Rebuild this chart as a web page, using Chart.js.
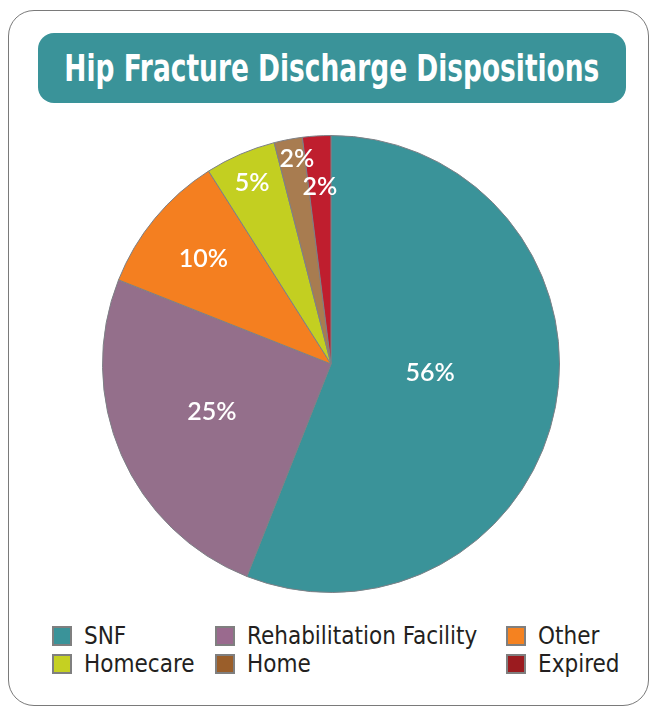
<!DOCTYPE html>
<html>
<head>
<meta charset="utf-8">
<script src="https://cdn.jsdelivr.net/npm/chart.js@4"></script>
<style>
  html, body { margin: 0; padding: 0; background: #fff; }
  body { width: 649px; height: 710px; position: relative; overflow: hidden; }
  #card {
    position: absolute; left: 8px; top: 10px; width: 641px; height: 696px;
    border: 1px solid #7a7a7a; border-radius: 26px; box-sizing: border-box;
  }
  #banner {
    position: absolute; left: 38px; top: 33px; width: 588px; height: 70px;
    background: #3a9399; border-radius: 16px;
    display: flex; align-items: center; justify-content: center;
  }
  #title {
    color: #fff; font-family: "Liberation Sans Narrow", "DejaVu Sans Condensed", sans-serif;
    font-weight: bold; font-size: 38px; white-space: nowrap; display: inline-block;
    transform-origin: center center;
  }
  #wrap { position: absolute; left: 102px; top: 135px; width: 458px; height: 458px; }
  #legend {
    position: absolute; left: 52px; top: 625px;
    display: grid; grid-template-columns: 163px 291px auto; grid-auto-rows: 28px;
    font-family: "Liberation Sans Narrow", "DejaVu Sans Condensed", sans-serif;
    font-size: 24px; color: #231f20;
  }
  .item { display: flex; align-items: center; height: 22px; }
  .box { width: 16px; height: 16px; border: 2px solid #7f7f7f; margin-right: 12px; flex: none; }
</style>
</head>
<body>
<div id="card"></div>
<div id="banner"><span id="title">Hip Fracture Discharge Dispositions</span></div>
<div id="wrap"><canvas id="pie" width="458" height="458"></canvas></div>
<div id="legend"></div>
<script>
  // data
  const categories = ['SNF', 'Rehabilitation Facility', 'Other', 'Homecare', 'Home', 'Expired']
  const percents = [56, 25, 10, 5, 2, 2]
  const sliceColors = ['#3a9399', '#946f8b', '#f47f20', '#c3cf21', '#a87c50', '#bf1e2e']
  const legendColors = ['#3a9399', '#9a6a8e', '#f58220', '#c5d022', '#9a5e2a', '#9b1b1f']

  // title fit to banner width
  let title = document.getElementById('title')
  let tw = title.getBoundingClientRect().width
  title.style.transform = 'scaleX(' + (535 / tw) + ')'

  // where each % label sits: share of the radius, and turn (deg) off the slice middle
  const labelRadius = [0.435, 0.56, 0.725, 0.87, 0.915, 0.78]
  const labelTurn = [-6, 2, 0, 0, 1.4, 0]

  const pctLabels = {
    id: 'pctLabels',
    afterDatasetsDraw(chart) {
      let ctx = chart.ctx
      let meta = chart.getDatasetMeta(0)
      ctx.save()
      ctx.fillStyle = '#ffffff'
      ctx.font = '600 25px Lato, "Open Sans", sans-serif'
      ctx.textAlign = 'center'
      ctx.textBaseline = 'middle'
      meta.data.forEach((arc, i) => {
        let mid = (arc.startAngle + arc.endAngle) / 2 + labelTurn[i] * Math.PI / 180
        let r = arc.outerRadius * labelRadius[i]
        ctx.fillText(percents[i] + '%', arc.x + Math.cos(mid) * r, arc.y + Math.sin(mid) * r + 1)
      })
      ctx.restore()
    }
  }

  let pie = new Chart(document.getElementById('pie').getContext('2d'), {
    type: 'pie',
    data: {
      labels: categories,
      datasets: [{
        data: percents,
        backgroundColor: sliceColors,
        borderColor: '#7d8086',
        borderWidth: 1
      }]
    },
    options: {
      responsive: false,
      maintainAspectRatio: false,
      animation: false,
      layout: { padding: 0 },
      plugins: {
        legend: { display: false },
        tooltip: { enabled: false }
      }
    },
    plugins: [pctLabels]
  })

  // legend
  let legend = document.getElementById('legend')
  categories.forEach((name, i) => {
    let item = document.createElement('div')
    item.className = 'item'
    item.innerHTML = '<span class="box" style="background:' + legendColors[i] + '"></span>' + name
    legend.appendChild(item)
  })
</script>
</body>
</html>
